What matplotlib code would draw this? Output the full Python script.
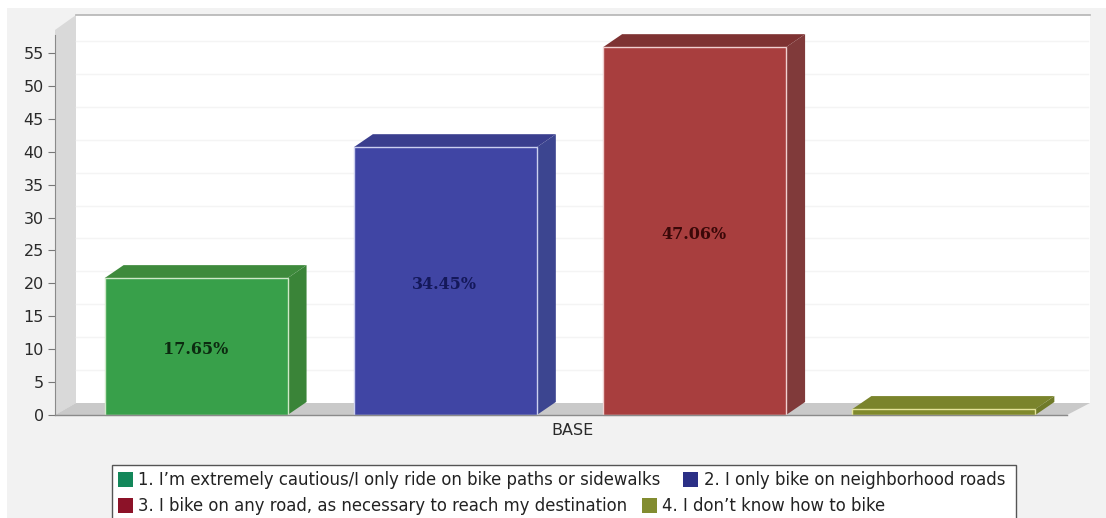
import matplotlib.pyplot as plt
from matplotlib.patches import Polygon, Rectangle

W, H = 1106, 518

categories = ['1. I\u2019m extremely cautious/I only ride on bike paths or sidewalks',
              '2. I only bike on neighborhood roads',
              '3. I bike on any road, as necessary to reach my destination',
              '4. I don\u2019t know how to bike']
values = [20.8, 40.7, 55.9, 0.9]
pct_labels = ['17.65%', '34.45%', '47.06%', '']
y_ticks = list(range(0, 60, 5))

front = ['#38a04a', '#4045a4', '#a83e3e', '#808a2c']
side = ['#3a8438', '#3c4590', '#803a3a', '#6f7a28']
top = ['#3e8a3c', '#3a3e8e', '#7e3232', '#7a842c']
edge = ['#cfe8c8', '#ccd0f0', '#f0d0d0', '#e4e49a']
swatch = ['#13875a', '#2b2f86', '#8c1228', '#828c30']
label_col = ['#0c2a10', '#14185a', '#3a0808', '#000000']

# plot area in pixels
left, right, bottom, upper = 55, 1067, 415, 35
depth_px = 19, 13     # bars
wall_px = 21, 12      # back wall


def px_box(x0, y0, x1, y1):
    return [x0 / W, 1 - y1 / H, (x1 - x0) / W, (y1 - y0) / H]


fig = plt.figure(figsize=(W / 100, H / 100), dpi=100, facecolor='white')

# background, everything in pixel coordinates
bg = fig.add_axes([0, 0, 1, 1], zorder=0)
bg.set_xlim(0, W)
bg.set_ylim(H, 0)
bg.axis('off')
bg.add_patch(Rectangle((7, 8), W - 7, H - 8, fc='#f2f2f2', ec='none'))
bg.add_patch(Rectangle((76, 15), right + 23 - 76, 388, fc='white', ec='none'))
bg.plot([76, right + 23], [15, 15], color='#b4b4b4', lw=1.2)
bg.add_patch(Polygon([(left, 30), (76, 15), (76, 403), (left, 415)], fc='#d9d9d9', ec='none'))
bg.add_patch(Polygon([(left, 415), (76, 403), (right + 23, 403), (right, 415)], fc='#c9c9c9', ec='none'))

ax = fig.add_axes(px_box(left, upper, right, bottom), zorder=1)
ax.patch.set_alpha(0)
ax.set_xlim(-0.566, 3.494)
ax.set_ylim(0, 57.75)
x = list(range(len(values)))
bar_w = 183 / 249.3
sx = (right - left) / 4.06
sy = (bottom - upper) / 57.75
dx, dy = depth_px[0] / sx, depth_px[1] / sy

# faint grid on the back wall
for t in y_ticks[1:]:
    ax.plot([-0.566 + wall_px[0] / sx, 3.494 + wall_px[0] / sx], [t + wall_px[1] / sy] * 2,
            color='#f4f4f4', lw=1, clip_on=False, zorder=1)

for i, v in enumerate(values):
    x0, x1 = x[i] - bar_w / 2, x[i] + bar_w / 2
    ax.add_patch(Polygon([(x1, 0), (x1 + dx, dy), (x1 + dx, v + dy), (x1, v)],
                         fc=side[i], ec='none', clip_on=False, zorder=2))
    ax.add_patch(Polygon([(x0, v), (x0 + dx, v + dy), (x1 + dx, v + dy), (x1, v)],
                         fc=top[i], ec='none', clip_on=False, zorder=2))
ax.bar(x, values, width=bar_w, color=front, edgecolor=edge, linewidth=1, zorder=3, clip_on=False)
for i, v in enumerate(values):
    if pct_labels[i]:
        ax.text(x[i] - 0.002, v / 2 - 0.5, pct_labels[i], ha='center', va='center', zorder=4,
                family='DejaVu Serif', fontweight='bold', fontsize=11.5, color=label_col[i])

ax.set_yticks(y_ticks)
ax.tick_params(axis='y', length=5, width=0.8, color='#777777', labelsize=11.5,
               labelcolor='#2a2a2a', pad=3)
ax.set_xticks([])
for s in ['top', 'right', 'bottom']:
    ax.spines[s].set_visible(False)
ax.spines['left'].set_color('#8a8a8a')
ax.plot([-0.566, 3.494], [0, 0], color='#8a8a8a', lw=1, zorder=5, clip_on=False)
ax.set_xlabel('BASE', fontsize=11.5, color='#2a2a2a', labelpad=6, x=0.511)

# legend box, cut by the picture's bottom edge
leg = fig.add_axes([0, 0, 1, 1], zorder=2)
leg.set_xlim(0, W)
leg.set_ylim(H, 0)
leg.axis('off')
leg.add_patch(Rectangle((111.5, 464.5), 904, 60, fc='white', ec='#555555', lw=1))
rows = [(480, 118, 0), (480, 683, 1), (506, 118, 2), (506, 642, 3)]
for yy, xx, i in rows:
    leg.add_patch(Rectangle((xx, yy - 8), 15, 15, fc=swatch[i], ec='none'))
    leg.text(xx + 20.5, yy, categories[i], fontsize=11.9, va='center', ha='left', color='#222222')

fig.savefig('out.png', dpi=100)
